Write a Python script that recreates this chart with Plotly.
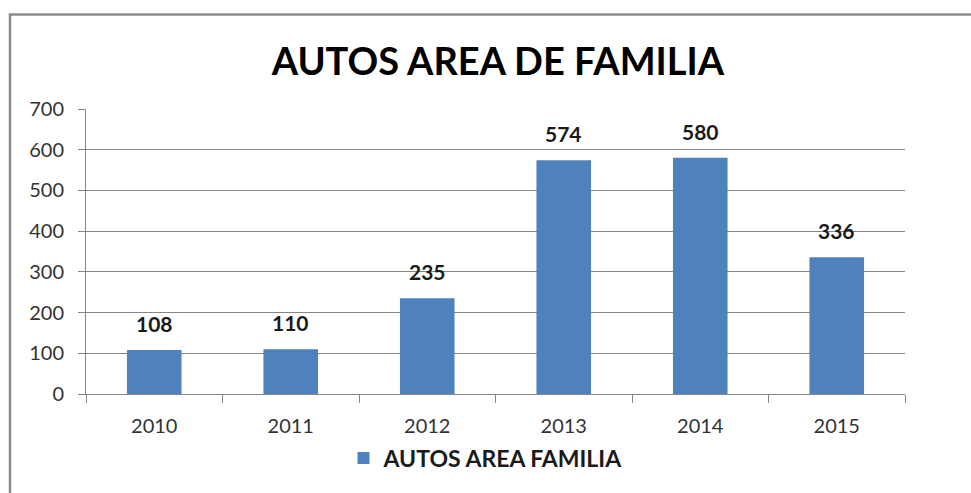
import plotly.graph_objects as go

years = ["2010", "2011", "2012", "2013", "2014", "2015"]
values = [108, 110, 235, 574, 580, 336]
series_name = "AUTOS AREA FAMILIA"
title_text = "AUTOS AREA DE FAMILIA"

W, H = 971, 493
L, R, T, B = 86, 66, 109, 99
pw, ph = W - L - R, H - T - B

FONT = "Lato"
BLUE = "#4F81BD"
GRID = "#868686"

fig = go.Figure()
fig.add_trace(go.Bar(
    x=years, y=values, name=f"<b>{series_name}</b>",
    marker=dict(color=BLUE, line=dict(width=0)),
    textposition="none",
))

for i, (yr, v) in enumerate(zip(years, values)):
    fig.add_annotation(x=i, y=v, xref="x", yref="y", text=f"<b>{v}</b>",
                       showarrow=False, yanchor="bottom", yshift=12,
                       font=dict(family=FONT, size=21, color="#1a1a1a"))

def px_x(p):
    return (p - L) / pw

def px_y(p):
    return 1 - (p - T) / ph

# outer chart border (partially visible)
fig.add_shape(type="rect", xref="paper", yref="paper",
              x0=px_x(10), x1=px_x(1000), y0=px_y(520), y1=px_y(14.5),
              line=dict(color="#8c8c8c", width=2.5), layer="below")

fig.update_layout(
    width=W, height=H,
    margin=dict(l=L, r=R, t=T, b=B),
    paper_bgcolor="white", plot_bgcolor="white",
    title=dict(text=f"<b>{title_text}</b>", x=px_x(506), xanchor="center",
               y=1 - 62 / H, yanchor="middle",
               font=dict(family=FONT, size=38, color="black")),
    showlegend=True,
    legend=dict(orientation="h", x=px_x(486), xanchor="center",
                y=px_y(458), yanchor="middle",
                font=dict(family=FONT, size=23, color="#1a1a1a"),
                itemsizing="constant"),
    bargap=0.6,
)

fig.update_xaxes(
    type="category", categoryorder="array", categoryarray=years,
    range=[-0.5, len(years) - 0.5], autorange=False,
    showline=True, linecolor=GRID, linewidth=1,
    ticks="outside", tickson="boundaries", ticklen=8, tickcolor=GRID,
    tickfont=dict(family=FONT, size=20, color="#333333"),
    ticklabelstandoff=14,
    tickangle=0, showgrid=False,
)
fig.update_yaxes(
    range=[0, 700], dtick=100, showline=True, linecolor=GRID, linewidth=1,
    ticks="outside", ticklen=7, tickcolor=GRID,
    showgrid=True, gridcolor=GRID, gridwidth=1,
    tickfont=dict(family=FONT, size=20, color="#333333"),
    ticklabelstandoff=10,
    zeroline=False,
)

fig.write_html("out.html")
